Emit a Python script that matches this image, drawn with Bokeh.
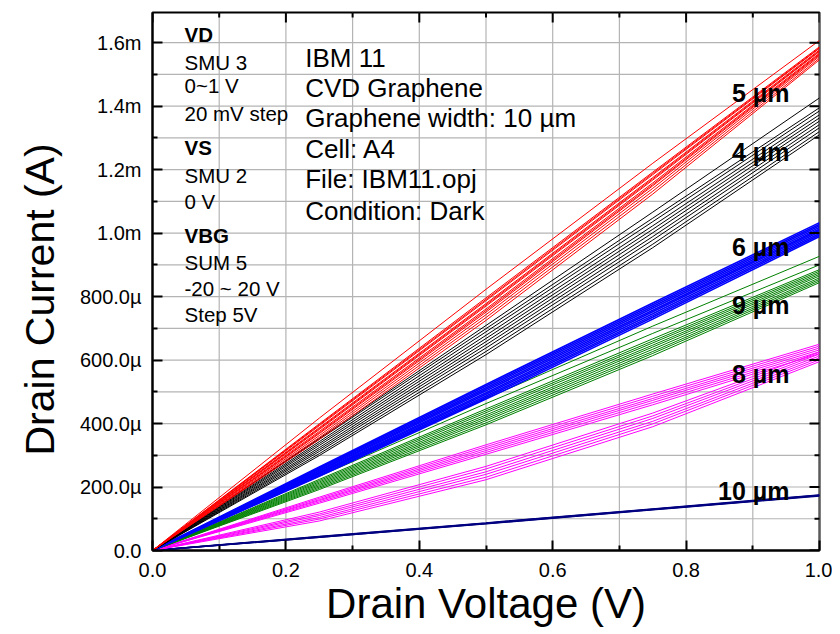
import math
from bokeh.plotting import figure
from bokeh.models import (Range1d, FixedTicker, Title, NumeralTickFormatter)
from bokeh.core.properties import value
from bokeh.embed import file_html
from bokeh.resources import INLINE

# ---------------- data (drain current in mA) ----------------
V_STEPS = [0.0, 0.25, 0.5, 0.75, 1.0]

RED_5UM = [
    [0, 0.417, 0.823, 1.220, 1.607],
    [0, 0.399, 0.796, 1.192, 1.587],
    [0, 0.396, 0.791, 1.188, 1.584],
    [0, 0.393, 0.787, 1.184, 1.582],
    [0, 0.387, 0.778, 1.175, 1.577],
    [0, 0.384, 0.774, 1.171, 1.574],
    [0, 0.381, 0.770, 1.167, 1.572],
    [0, 0.375, 0.761, 1.158, 1.567],
    [0, 0.371, 0.756, 1.153, 1.564],
    [0, 0.368, 0.751, 1.149, 1.561],
    [0, 0.362, 0.743, 1.141, 1.557],
    [0, 0.356, 0.734, 1.132, 1.551],
    [0, 0.350, 0.725, 1.123, 1.546],
]
BLACK_4UM = [
    [0, 0.353, 0.709, 1.066, 1.426],
    [0, 0.350, 0.699, 1.047, 1.395],
    [0, 0.343, 0.689, 1.036, 1.385],
    [0, 0.337, 0.678, 1.023, 1.373],
    [0, 0.331, 0.668, 1.012, 1.363],
    [0, 0.324, 0.658, 1.001, 1.353],
    [0, 0.318, 0.648, 0.989, 1.342],
    [0, 0.312, 0.638, 0.978, 1.332],
    [0, 0.305, 0.627, 0.965, 1.320],
    [0, 0.299, 0.617, 0.954, 1.310],
]
BLUE_6UM = [
    [0, 0.263, 0.523, 0.780, 1.033],
    [0, 0.260, 0.518, 0.774, 1.028],
    [0, 0.257, 0.513, 0.769, 1.023],
    [0, 0.253, 0.508, 0.763, 1.018],
    [0, 0.250, 0.503, 0.757, 1.013],
    [0, 0.247, 0.497, 0.752, 1.009],
    [0, 0.244, 0.492, 0.746, 1.004],
    [0, 0.241, 0.487, 0.740, 0.999],
    [0, 0.237, 0.482, 0.735, 0.994],
    [0, 0.234, 0.477, 0.729, 0.989],
]
GREEN_9UM = [
    [0, 0.244, 0.479, 0.707, 0.927],
    [0, 0.234, 0.463, 0.684, 0.900],
    [0, 0.224, 0.446, 0.667, 0.885],
    [0, 0.220, 0.440, 0.660, 0.880],
    [0, 0.216, 0.434, 0.654, 0.875],
    [0, 0.212, 0.427, 0.647, 0.870],
    [0, 0.208, 0.421, 0.641, 0.865],
    [0, 0.204, 0.415, 0.634, 0.859],
    [0, 0.200, 0.409, 0.627, 0.854],
    [0, 0.196, 0.402, 0.621, 0.849],
    [0, 0.192, 0.396, 0.614, 0.844],
]
MAGENTA_8UM = [
    [0, 0.168, 0.333, 0.493, 0.650],
    [0, 0.164, 0.327, 0.486, 0.644],
    [0, 0.160, 0.321, 0.479, 0.638],
    [0, 0.157, 0.315, 0.473, 0.632],
    [0, 0.153, 0.309, 0.466, 0.626],
    [0, 0.149, 0.303, 0.459, 0.620],
    [0, 0.121, 0.265, 0.433, 0.625],
    [0, 0.115, 0.257, 0.424, 0.619],
    [0, 0.110, 0.248, 0.416, 0.613],
    [0, 0.104, 0.240, 0.407, 0.607],
    [0, 0.099, 0.231, 0.399, 0.601],
    [0, 0.093, 0.223, 0.390, 0.595],
]
NAVY_10UM = [
    [0, 0.044, 0.087, 0.131, 0.175],
    [0, 0.043, 0.086, 0.130, 0.174],
    [0, 0.042, 0.085, 0.129, 0.173],
    [0, 0.042, 0.084, 0.128, 0.172],
]

FAMILIES = [
    (NAVY_10UM, "#000080", 1.5),
    (MAGENTA_8UM, "#FF00FF", 1.0),
    (GREEN_9UM, "#008000", 1.0),
    (BLUE_6UM, "#0000FF", 1.6),
    (BLACK_4UM, "#000000", 1.0),
    (RED_5UM, "#FF0000", 1.0),
]

X_MAX = 1.0
Y_MAX = 1695  # µA
X_MAJOR = [0.0, 0.2, 0.4, 0.6, 0.8, 1.0]
X_MINOR = [0.1, 0.3, 0.5, 0.7, 0.9]
Y_MAJOR = [0, 200, 400, 600, 800, 1000, 1200, 1400, 1600]  # µA
Y_MINOR = [100, 300, 500, 700, 900, 1100, 1300, 1500]
Y_TICK_LABELS = ["0.0", "200.0µ", "400.0µ", "600.0µ", "800.0µ",
                 "1.0m", "1.2m", "1.4m", "1.6m"]

X_LABEL = "Drain Voltage (V)"
Y_LABEL = "Drain Current (A)"

SETUP_TEXT = ["VD", "SMU 3", "0~1 V", "20 mV step", "VS", "SMU 2", "0 V",
              "VBG", "SUM 5", "-20 ~ 20 V", "Step 5V"]
SETUP_BOLD = [True, False, False, False, True, False, False, True, False, False, False]
SETUP_Y = [1625, 1537, 1465, 1376, 1269, 1181, 1099, 992, 907, 825, 743]

INFO_TEXT = ["IBM 11", "CVD Graphene", "Graphene width: 10 µm", "Cell: A4",
             "File: IBM11.opj", "Condition: Dark"]
INFO_Y = [1553, 1458, 1364, 1266, 1169, 1071]

WIDTH_TEXT = ["5 µm", "4 µm", "6 µm", "9 µm", "8 µm", "10 µm"]
WIDTH_Y = [1442, 1257, 957, 772, 557, 189]

FONT = "Liberation Sans"

# ---------------- figure ----------------
p = figure(width=832, height=634, output_backend="svg", toolbar_location=None,
           x_range=Range1d(0, X_MAX), y_range=Range1d(0, Y_MAX),
           min_border_left=150, min_border_right=13, min_border_top=12,
           min_border_bottom=84, x_axis_label=X_LABEL)
p.background_fill_color = "white"
p.border_fill_color = "white"
p.outline_line_color = "black"
p.outline_line_width = 2
p.xgrid.visible = False
p.ygrid.visible = False

# grid every 0.1 V and every 100 µA, drawn under the curves
GX = sorted(X_MAJOR + X_MINOR)
GY = sorted(Y_MAJOR + Y_MINOR)
p.segment(x0=GX, y0=[0] * len(GX), x1=GX, y1=[Y_MAX] * len(GX),
          line_color="#b4b4b4", line_width=1.2)
p.segment(x0=[0] * len(GY), y0=GY, x1=[X_MAX] * len(GY), y1=GY,
          line_color="#b4b4b4", line_width=1.2)

for fam, col, lw in FAMILIES:
    xs = [V_STEPS for _ in fam]
    ys = [[v * 1000 for v in curve] for curve in fam]
    p.multi_line(xs=xs, ys=ys, line_color=col, line_width=lw)

def style_axis(ax):
    ax.axis_line_width = 2
    ax.axis_line_color = "black"
    ax.major_tick_in = 10
    ax.major_tick_out = 0
    ax.minor_tick_in = 5
    ax.minor_tick_out = 0
    ax.major_tick_line_width = 2
    ax.minor_tick_line_width = 2
    ax.major_tick_line_color = "black"
    ax.minor_tick_line_color = "black"
    ax.major_label_text_font = FONT
    ax.major_label_text_font_size = "20px"
    ax.major_label_text_color = "black"

xa = p.xaxis[0]
xa.ticker = FixedTicker(ticks=X_MAJOR, minor_ticks=X_MINOR)
xa.formatter = NumeralTickFormatter(format="0.0")
style_axis(xa)
xa.major_label_standoff = 12
xa.axis_label_text_font = FONT
xa.axis_label_text_font_size = "42px"
xa.axis_label_text_font_style = "normal"
xa.axis_label_text_color = "black"
xa.axis_label_standoff = 0

ya = p.yaxis[0]
ya.ticker = FixedTicker(ticks=Y_MAJOR, minor_ticks=Y_MINOR)
ya.major_label_overrides = {t: s for t, s in zip(Y_MAJOR, Y_TICK_LABELS)}
style_axis(ya)
ya.major_label_standoff = 11

# y title: starts near the lower part of the frame like the original
p.add_layout(Title(text=Y_LABEL, align="left", offset=95, standoff=28,
                   text_font=FONT, text_font_size="41px",
                   text_font_style="normal", text_color="black"), "left")

# mirrored inward ticks on the top and right frame edges (clipped to the frame)
p.scatter(x=X_MAJOR, y=[Y_MAX] * len(X_MAJOR), marker="dash", size=20,
          angle=math.pi / 2, line_color="black", line_width=2)
p.scatter(x=X_MINOR, y=[Y_MAX] * len(X_MINOR), marker="dash", size=10,
          angle=math.pi / 2, line_color="black", line_width=2)
p.scatter(x=[X_MAX] * len(Y_MAJOR), y=Y_MAJOR, marker="dash", size=20,
          line_color="black", line_width=2)
p.scatter(x=[X_MAX] * len(Y_MINOR), y=Y_MINOR, marker="dash", size=10,
          line_color="black", line_width=2)

# ---------------- texts ----------------
for txt, bold, yy in zip(SETUP_TEXT, SETUP_BOLD, SETUP_Y):
    p.text(x=[0.048], y=[yy], text=[txt], text_font=value(FONT),
           text_font_size="20.5px", text_font_style="bold" if bold else "normal",
           text_baseline="middle", text_align="left", text_color="black")

p.text(x=[0.229] * len(INFO_TEXT), y=INFO_Y, text=INFO_TEXT, text_font=value(FONT),
       text_font_size="26px", text_baseline="middle", text_align="left",
       text_color="black")

p.text(x=[0.955] * len(WIDTH_TEXT), y=WIDTH_Y, text=WIDTH_TEXT, text_font=value(FONT),
       text_font_size="25px", text_font_style="bold", text_baseline="middle",
       text_align="right", text_color="black")

open("out.html", "w").write(file_html(p, INLINE))
